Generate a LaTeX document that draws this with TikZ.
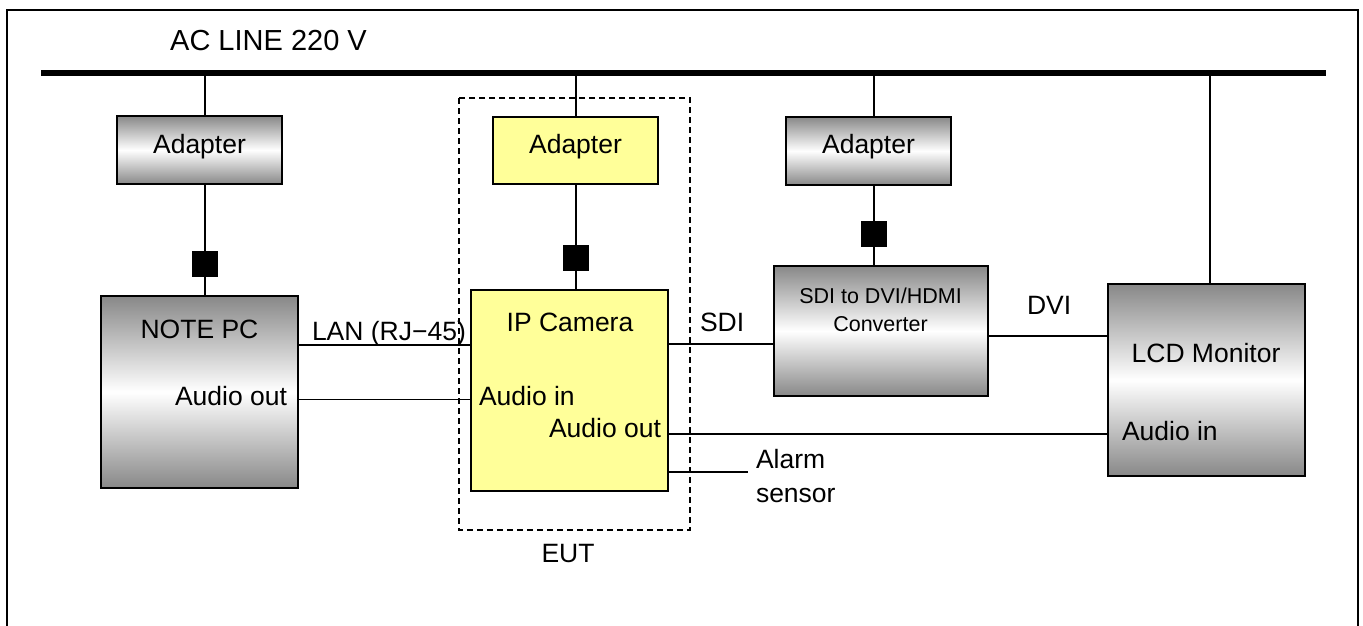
\documentclass[tikz,border=0pt]{standalone}
\usepackage{fontspec}
\setmainfont{Liberation Sans}
\definecolor{boxgray}{RGB}{136,136,136}
\definecolor{eutyellow}{RGB}{255,255,153}
\tikzset{
  x=1pt, y=-1pt,
  every node/.style={font=\fontsize{26.5}{30}\selectfont, inner sep=0pt, outer sep=0pt},
  graybox/.style={draw=black, line width=2pt, rectangle, top color=boxgray, bottom color=boxgray, middle color=white},
  yellowbox/.style={draw=black, line width=2pt, rectangle, fill=eutyellow},
  plug/.style={fill=black, rectangle, minimum width=26pt, minimum height=26pt},
  wire/.style={line width=1.6pt},
  lbl/.style={anchor=base},
  lblw/.style={anchor=base west},
  lble/.style={anchor=base east},
  small/.style={font=\fontsize{21.5}{24}\selectfont}
}
\begin{document}
\begin{tikzpicture}
\useasboundingbox (0,0) rectangle (1363,626);
% outer frame (open at bottom)
\draw[line width=2.3pt] (7,626) -- (7,10) -- (1358,10) -- (1358,626);
% AC bus
\coordinate (busL) at (41,72.7);
\coordinate (busR) at (1326,72.7);
\draw[line width=6pt] (busL) -- (busR);
\node[lbl, font=\fontsize{29}{32}\selectfont] (acline) at (268.5,51) {AC LINE 220 V};

% EUT dashed box
\draw[line width=1.6pt, dash pattern=on 6pt off 4pt] (459,98) rectangle (690,530);
\node[lbl] (eut) at (568,562) {EUT};

% boxes
\node[graybox, minimum width=165pt, minimum height=68pt] (ad1) at (199.5,150) {};
\node[yellowbox, minimum width=165pt, minimum height=67pt] (ad2) at (575.5,150.5) {};
\node[graybox, minimum width=165pt, minimum height=68pt] (ad3) at (868.5,151) {};
\node[graybox, minimum width=197pt, minimum height=192pt] (pc) at (199.5,392) {};
\node[yellowbox, minimum width=197pt, minimum height=201pt] (cam) at (569.5,390.5) {};
\node[graybox, minimum width=214.5pt, minimum height=130pt] (conv) at (881,331) {};
\node[graybox, minimum width=197pt, minimum height=192pt] (lcd) at (1206.5,380) {};

% plugs
\node[plug] (sq1) at (205,264) {};
\node[plug] (sq2) at (576,258) {};
\node[plug] (sq3) at (874,234) {};

% power lines
\draw[wire] (sq1 |- busL) -- (sq1 |- ad1.north);
\draw[wire] (sq1 |- ad1.south) -- (sq1 |- pc.north);
\draw[wire] (sq2 |- busL) -- (sq2 |- ad2.north);
\draw[wire] (sq2 |- ad2.south) -- (sq2 |- cam.north);
\draw[wire] (sq3 |- busL) -- (sq3 |- ad3.north);
\draw[wire] (sq3 |- ad3.south) -- (sq3 |- conv.north);
\coordinate (lcdp) at (1210,284);
\draw[wire] (lcdp |- busL) -- (lcdp |- lcd.north);

% signal lines
\coordinate (lanY) at (0,345);
\coordinate (audY) at (0,399.5);
\coordinate (sdiY) at (0,344);
\coordinate (dviY) at (0,336);
\coordinate (aoY) at (0,434);
\coordinate (alarmEnd) at (748,472);
\draw[wire] (pc.east |- lanY) -- (cam.west |- lanY);
\draw[wire] (pc.east |- audY) -- (cam.west |- audY);
\draw[wire] (cam.east |- sdiY) -- (conv.west |- sdiY);
\draw[wire] (conv.east |- dviY) -- (lcd.west |- dviY);
\draw[wire] (cam.east |- aoY) -- (lcd.west |- aoY);
\draw[wire] (cam.east |- alarmEnd) -- (alarmEnd);

% labels
\node[lbl] (t-ad1) at (199.5,153.5) {Adapter};
\node[lbl] (t-ad2) at (575.5,153) {Adapter};
\node[lbl] (t-ad3) at (868.5,153.5) {Adapter};
\node[lbl] (t-pc) at (199.5,338) {NOTE PC};
\node[lble] (t-pcao) at (287,405) {Audio out};
\node[lblw] (t-lan) at (312,340) {LAN (RJ{\char"2212}45)};
\node[lbl] (t-cam) at (570,331) {IP Camera};
\node[lblw] (t-camai) at (479,405) {Audio in};
\node[lble] (t-camao) at (661,437) {Audio out};
\node[lblw] (t-sdi) at (700,331) {SDI};
\node[lblw] (t-alarm) at (756,468) {Alarm};
\node[lblw] (t-sensor) at (756,502) {sensor};
\node[lbl, small] (t-conv1) at (880.5,303.3) {SDI to DVI/HDMI};
\node[lbl, small] (t-conv2) at (880.5,331) {Converter};
\node[lblw] (t-dvi) at (1027,314) {DVI};
\node[lbl] (t-lcd) at (1206,362) {LCD Monitor};
\node[lblw] (t-lcdai) at (1122,440) {Audio in};
\end{tikzpicture}
\end{document}
